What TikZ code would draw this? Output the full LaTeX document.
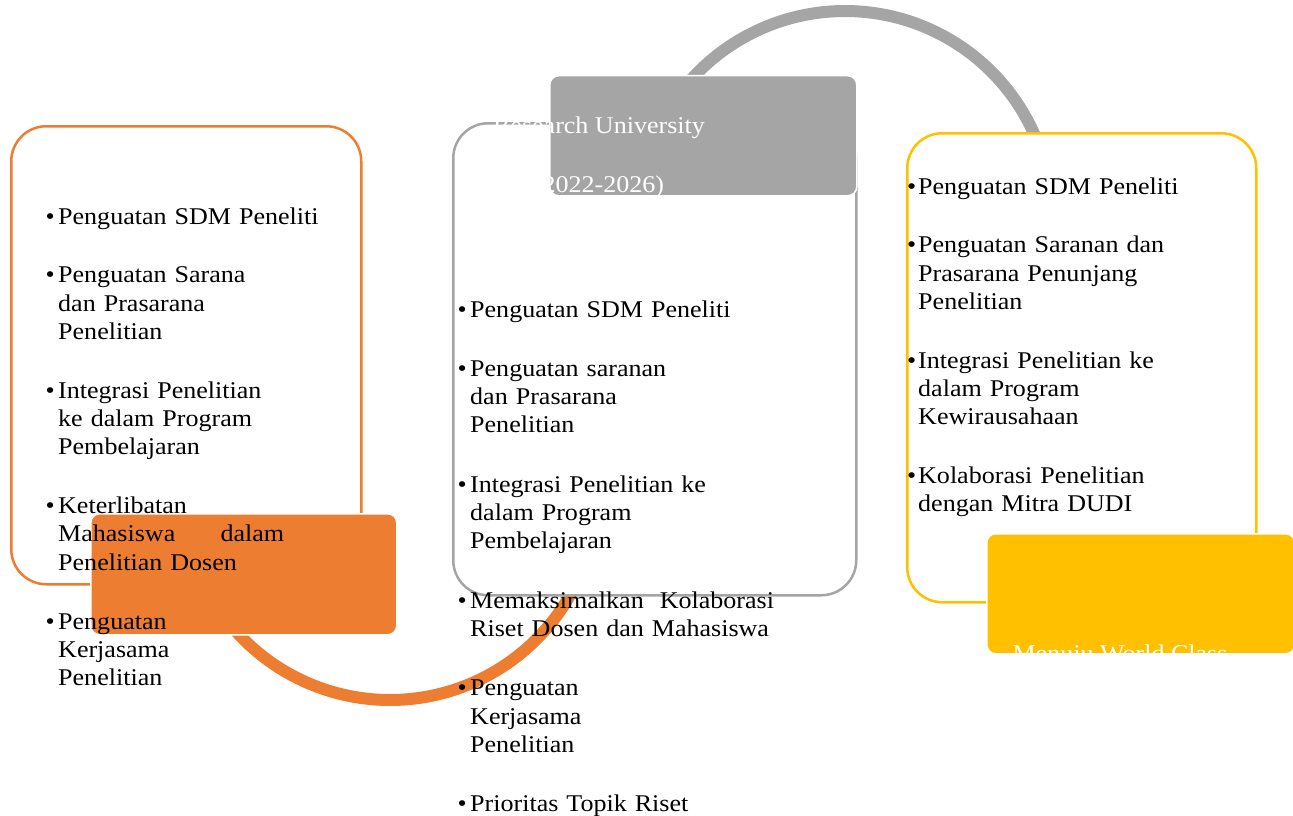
\documentclass[tikz,border=0pt]{standalone}
\usepackage{fontspec}
\setmainfont[FakeStretch=1.085]{Liberation Serif}
\definecolor{cOrange}{HTML}{ED7D31}
\definecolor{cGray}{HTML}{A5A5A5}
\definecolor{cYellow}{HTML}{FFC000}
\tikzset{
  outbox/.style={line width=2.5pt, rounded corners=35pt, fill=white, anchor=north west, inner sep=0pt},
  fillbox/.style={draw=white, line width=1.5pt, rounded corners=9pt, anchor=north west, inner sep=0pt},
  arcline/.style={line width=12pt},
  body/.style={anchor=base west, inner sep=0pt, text width=320pt, align=left, font=\fontsize{24}{28.3}\selectfont},
  hdr/.style={anchor=base, inner sep=0pt, text=white, font=\fontsize{24}{28.3}\selectfont}
}
\newcommand{\bl}[1]{\leavevmode\llap{\textbullet\hspace{#1}}}
\begin{document}
\begin{tikzpicture}[x=1pt,y=-1pt]
\useasboundingbox (0,0) rectangle (1293,816);
% arcs
\draw[arcline, cOrange] plot[domain=25:145, samples=80, smooth] ({390+207*cos(\x)}, {493+207*sin(\x)});
\draw[arcline, cGray] plot[domain=222:340, samples=80, smooth] ({845+207*cos(\x)}, {218+207*sin(\x)});
% outline boxes
\node (lbox) [outbox, draw=cOrange, minimum width=350pt, minimum height=458pt] at (10,125) {};
\node (mbox) [outbox, draw=cGray, minimum width=403pt, minimum height=472pt] at (452,122) {};
\node (rbox) [outbox, draw=cYellow, minimum width=349pt, minimum height=469pt] at (906,132) {};
% filled boxes
\node (lfill) [fillbox, fill=cOrange, minimum width=306pt, minimum height=121pt] at (90,513) {};
\node (mfill) [fillbox, fill=cGray, minimum width=307pt, minimum height=120pt] at (549,75) {};
\node (rfill) [fillbox, fill=cYellow, minimum width=308pt, minimum height=120pt] at (986,533) {};
% header texts
\node (h1) [hdr] at (599,133) {Research University};
\node (h2) [hdr] at (599,192) {(2022-2026)};
\node (h3) [hdr] at (1120,661) {Menuju World Class};
% body texts
\node (ltext) [body] at (58,224) {%
\bl{3.5pt}Penguatan SDM Peneliti\\[30.5pt]
\bl{3.5pt}Penguatan Sarana\\ dan Prasarana\\ Penelitian\\[30.5pt]
\bl{3.5pt}Integrasi Penelitian\\ ke dalam Program\\ Pembelajaran\\[30.5pt]
\bl{3.5pt}Keterlibatan\\ \leavevmode\hbox to 226pt{Mahasiswa\hfill dalam}\\ Penelitian Dosen\\[30.5pt]
\bl{3.5pt}Penguatan\\ Kerjasama\\ Penelitian};
\node (mtext) [body] at (470,317) {%
\bl{3.5pt}Penguatan SDM Peneliti\\[31pt]
\bl{3.5pt}Penguatan saranan\\ dan Prasarana\\ Penelitian\\[31pt]
\bl{3.5pt}Integrasi Penelitian ke\\ dalam Program\\ Pembelajaran\\[31pt]
\bl{3.5pt}Memaksimalkan\ \ Kolaborasi\\ Riset Dosen dan Mahasiswa\\[31pt]
\bl{3.5pt}Penguatan\\ Kerjasama\\ Penelitian\\[31pt]
\bl{3.5pt}Prioritas Topik Riset};
\node (rtext) [body] at (918,194) {%
\bl{2pt}Penguatan SDM Peneliti\\[30.5pt]
\bl{2pt}Penguatan Saranan dan\\ Prasarana Penunjang\\ Penelitian\\[30.5pt]
\bl{2pt}Integrasi Penelitian ke\\ dalam Program\\ Kewirausahaan\\[30.5pt]
\bl{2pt}Kolaborasi Penelitian\\ dengan Mitra DUDI};
\end{tikzpicture}
\end{document}
